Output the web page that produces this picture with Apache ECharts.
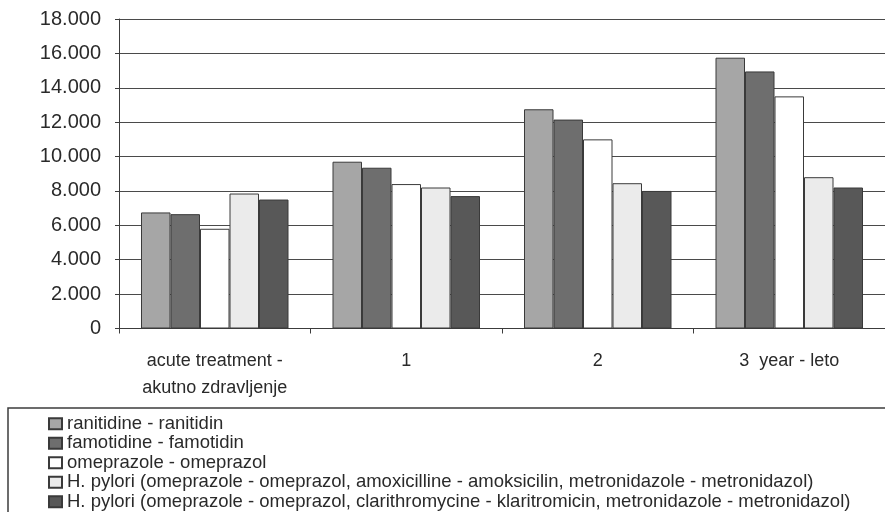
<!DOCTYPE html>
<html>
<head>
<meta charset="utf-8">
<script src="https://cdn.jsdelivr.net/npm/echarts@6/dist/echarts.min.js"></script>
<style>
html,body{margin:0;padding:0;background:#fff;}
#chart{width:885px;height:512px;}
</style>
</head>
<body>
<div id="chart"></div>
<script>
const categories = ["acute treatment -\nakutno zdravljenje", "1", "2", "3  year - leto"];
const seriesNames = [
  "ranitidine - ranitidin",
  "famotidine - famotidin",
  "omeprazole - omeprazol",
  "H. pylori (omeprazole - omeprazol, amoxicilline - amoksicilin, metronidazole - metronidazol)",
  "H. pylori (omeprazole - omeprazol, clarithromycine - klaritromicin, metronidazole - metronidazol)"
];
const ranitidine = [6750, 9700, 12750, 15750];
const famotidine = [6650, 9350, 12150, 14950];
const omeprazole = [5800, 8400, 11000, 13500];
const hpAmox = [7850, 8200, 8450, 8800];
const hpClar = [7500, 7700, 8000, 8200];
const yTicks = [0, 2000, 4000, 6000, 8000, 10000, 12000, 14000, 16000, 18000];

const seriesValues = [ranitidine, famotidine, omeprazole, hpAmox, hpClar];
const colors = ["#a6a6a6", "#6e6e6e", "#ffffff", "#ebebeb", "#585858"];
const FONT = "'Liberation Sans', Arial, Helvetica, sans-serif";

const chart = echarts.init(document.getElementById('chart'), null, {renderer: 'canvas'});
chart.setOption({
  animation: false,
  backgroundColor: '#ffffff',
  grid: {left: 119, top: 19, width: 768, height: 309.5, containLabel: false},
  legend: {
    orient: 'vertical',
    left: 48,
    top: 414,
    padding: 0,
    itemWidth: 13,
    itemHeight: 11,
    itemGap: 0,
    icon: 'rect',
    selectedMode: false,
    textStyle: {fontFamily: FONT, fontSize: 18.5, color: '#2a2a2a', lineHeight: 19.5},
    data: seriesNames
  },
  graphic: [{
    type: 'rect',
    shape: {x: 8, y: 408, width: 900, height: 200},
    style: {fill: 'none', stroke: '#3c3c3c', lineWidth: 1.5},
    silent: true
  }],
  xAxis: {
    type: 'category',
    data: categories,
    axisLine: {show: true, lineStyle: {color: '#3c3c3c', width: 1}},
    axisTick: {show: true, length: 5, lineStyle: {color: '#3c3c3c'}},
    axisLabel: {fontFamily: FONT, fontSize: 18, color: '#2a2a2a', margin: 19, lineHeight: 27, interval: 0}
  },
  yAxis: {
    type: 'value',
    min: yTicks[0],
    max: yTicks[yTicks.length - 1],
    interval: yTicks[1] - yTicks[0],
    axisLine: {show: true, lineStyle: {color: '#3c3c3c', width: 1}},
    axisTick: {show: true, length: 4, lineStyle: {color: '#3c3c3c'}},
    splitLine: {show: true, lineStyle: {color: '#4a4a4a', width: 1}},
    axisLabel: {
      fontFamily: FONT, fontSize: 20, color: '#2a2a2a', margin: 18,
      formatter: function (v) { return v === 0 ? '0' : String(v).replace(/\B(?=(\d{3})+(?!\d))/g, '.'); }
    }
  },
  series: seriesNames.map(function (name, i) {
    return {
      name: name,
      type: 'bar',
      data: seriesValues[i],
      barWidth: 29.5,
      barGap: '0%',
      itemStyle: {color: colors[i], borderColor: '#3a3a3a', borderWidth: 1}
    };
  })
});
</script>
</body>
</html>
